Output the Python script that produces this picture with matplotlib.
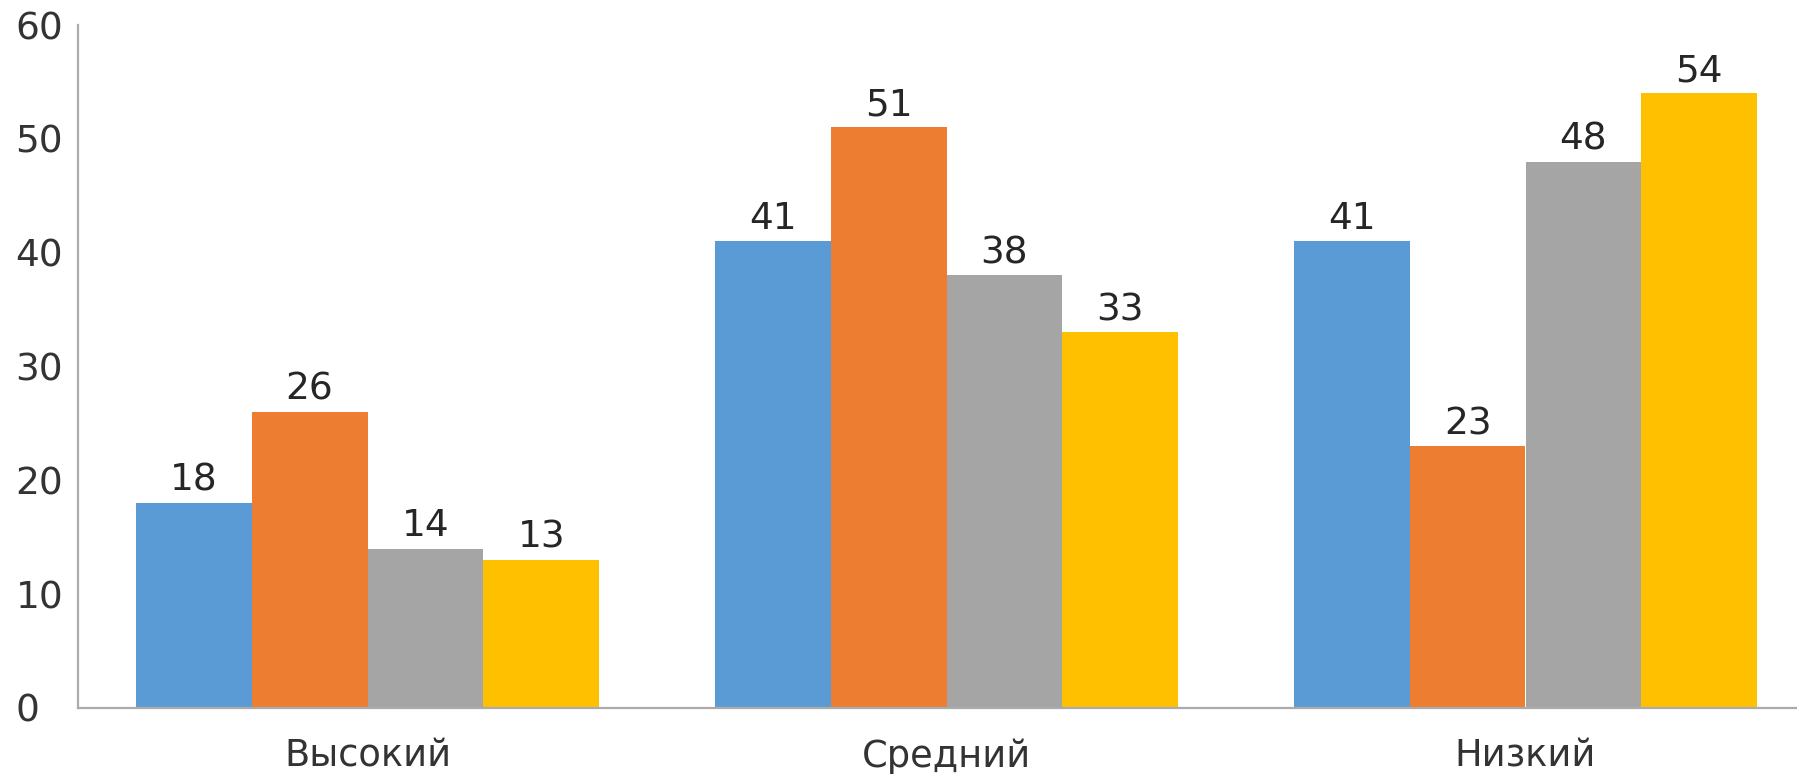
import matplotlib
matplotlib.use("Agg")
import matplotlib.pyplot as plt
import numpy as np

categories = ["Высокий", "Средний", "Низкий"]
series1 = [18, 41, 41]
series2 = [26, 51, 23]
series3 = [14, 38, 48]
series4 = [13, 33, 54]
y_ticks = [0, 10, 20, 30, 40, 50, 60]

colors = ["#5B9BD5", "#ED7D31", "#A5A5A5", "#FFC000"]
text_color = "#333333"
axis_color = "#ABABAB"

plt.rcParams['font.family'] = ['DejaVu Sans']

fig = plt.figure(figsize=(17.97, 7.74), dpi=100)
ax = fig.add_axes([78 / 1797, 1 - 708 / 774, 1 - 78 / 1797, (708 - 25) / 774])

x = np.arange(len(categories))
width = 0.2
all_series = [series1, series2, series3, series4]
for i, (vals, c) in enumerate(zip(all_series, colors)):
    bars = ax.bar(x + (i - 1.5) * width, vals, width=width, color=c, linewidth=0)
    ax.bar_label(bars, labels=[str(v) for v in vals], padding=3, fontsize=27, color="#262626")

ax.set_xlim(-0.5, -0.5 + (1797 - 78) / 579)
ax.set_ylim(0, 60)
ax.set_xticks(x)
ax.set_xticklabels(categories, fontsize=26.5, color=text_color)
ax.set_yticks(y_ticks)
ax.set_yticklabels([str(v) for v in y_ticks], fontsize=27, color=text_color)
for lab in ax.get_yticklabels():
    lab.set_horizontalalignment('left')

ax.tick_params(axis='x', length=0, pad=21.5)
ax.tick_params(axis='y', length=0, pad=45)

for s in ["top", "right"]:
    ax.spines[s].set_visible(False)
for s in ["left", "bottom"]:
    ax.spines[s].set_color(axis_color)
    ax.spines[s].set_linewidth(1.6)

fig.savefig("out.png", dpi=100, facecolor="white")
